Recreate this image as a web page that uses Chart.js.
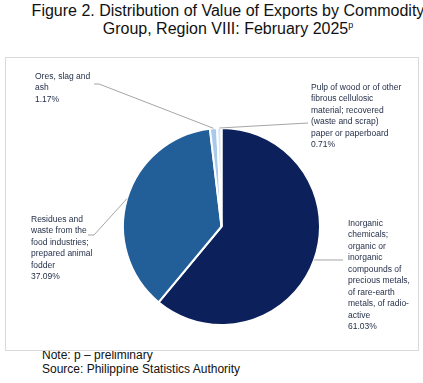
<!DOCTYPE html>
<html>
<head>
<meta charset="utf-8">
<script src="https://cdn.jsdelivr.net/npm/chart.js@4.4.1/dist/chart.umd.min.js"></script>
<style>
  body { margin: 0; background: #fff; font-family: "Liberation Sans", Arial, sans-serif; }
  #wrap { position: relative; width: 423px; height: 383px; overflow: hidden; }
  #title { position: absolute; left: 0; top: 2px; width: 456px; text-align: center; font-size: 16px; line-height: 18px; color: #111; }
  #title sup { font-size: 9px; vertical-align: 6px; line-height: 0; }
  #notes { position: absolute; left: 42px; top: 348px; font-size: 12px; line-height: 14px; color: #111; }
  #pieChart { position: absolute; left: 0; top: 0; }
</style>
</head>
<body>
<div id="wrap">
  <div id="title">Figure 2. Distribution of Value of Exports by Commodity<br>Group, Region VIII: February 2025<sup>p</sup></div>
  <div id="notes">Note: p &ndash; preliminary<br>Source: Philippine Statistics Authority</div>
  <canvas id="pieChart" width="423" height="383"></canvas>
</div>
<script>
// commodity groups, in drawing order (clockwise from 12 o'clock)
const categories = [
  "Inorganic chemicals; organic or inorganic compounds of precious metals, of rare-earth metals, of radio-active",
  "Residues and waste from the food industries; prepared animal fodder",
  "Ores, slag and ash",
  "Pulp of wood or of other fibrous cellulosic material; recovered (waste and scrap) paper or paperboard"
];
const shares = [61.03, 37.09, 1.17, 0.71];

// how each label is wrapped, as in the original
const labelLines = [
  ["Inorganic", "chemicals;", "organic or", "inorganic", "compounds of", "precious metals,", "of rare-earth", "metals, of radio-", "active"],
  ["Residues and", "waste from the", "food industries;", "prepared animal", "fodder"],
  ["Ores, slag and", "ash"],
  ["Pulp of wood or of other", "fibrous cellulosic", "material; recovered", "(waste and scrap)", "paper or paperboard"]
];

const sliceColors = ['#0c215c', '#225f99', '#a7c9ec', '#dbe7f6'];

// label placement: text box (left, top) and leader end point, page pixels
const labelPlace = [
  { x: 348, y: 219, ex: 343, ey: 260, elbow: null },
  { x: 31, y: 215, ex: 94, ey: 235, elbow: 88 },
  { x: 35, y: 72, ex: 99, ey: 84, elbow: 94 },
  { x: 311, y: 83, ex: 308, ey: 123, elbow: null }
];

const boxPlugin = {
  id: 'box',
  beforeDraw(chart) {
    const c = chart.ctx;
    c.save();
    c.fillStyle = '#fff';
    c.fillRect(5, 57, 414, 294);
    c.strokeStyle = '#d9d9d9';
    c.lineWidth = 1;
    c.strokeRect(5.5, 57.5, 413, 293);
    c.restore();
  }
};

const labelPlugin = {
  id: 'leaderLabels',
  afterDatasetsDraw(chart) {
    const c = chart.ctx;
    const meta = chart.getDatasetMeta(0);
    c.save();
    meta.data.forEach((arc, i) => {
      const p = arc.getProps(['x', 'y', 'startAngle', 'endAngle', 'outerRadius'], true);
      const mid = (p.startAngle + p.endAngle) / 2;
      const ax = p.x + Math.cos(mid) * p.outerRadius;
      const ay = p.y + Math.sin(mid) * p.outerRadius;
      const L = labelPlace[i];
      c.strokeStyle = '#a6a6a6';
      c.lineWidth = 1;
      c.beginPath();
      c.moveTo(ax, ay);
      c.lineTo(L.ex, L.ey);
      if (L.elbow !== null) c.lineTo(L.elbow, L.ey);
      c.stroke();

      c.fillStyle = '#1f2a44';
      c.font = '8.5px "Liberation Sans", Arial, sans-serif';
      c.textBaseline = 'top';
      c.textAlign = 'left';
      const lines = labelLines[i].concat([shares[i].toFixed(2) + '%']);
      lines.forEach((t, k) => c.fillText(t, L.x, L.y + k * 11.5));
    });
    c.restore();
  }
};

new Chart(document.getElementById('pieChart'), {
  type: 'pie',
  data: {
    labels: categories,
    datasets: [{
      data: shares,
      backgroundColor: sliceColors,
      borderColor: '#ffffff',
      borderWidth: 2
    }]
  },
  options: {
    responsive: false,
    animation: false,
    layout: { padding: { left: 122, right: 102, top: 127, bottom: 57 } },
    plugins: {
      legend: { display: false },
      tooltip: { enabled: false },
      title: { display: false }
    }
  },
  plugins: [boxPlugin, labelPlugin]
});
</script>
</body>
</html>
